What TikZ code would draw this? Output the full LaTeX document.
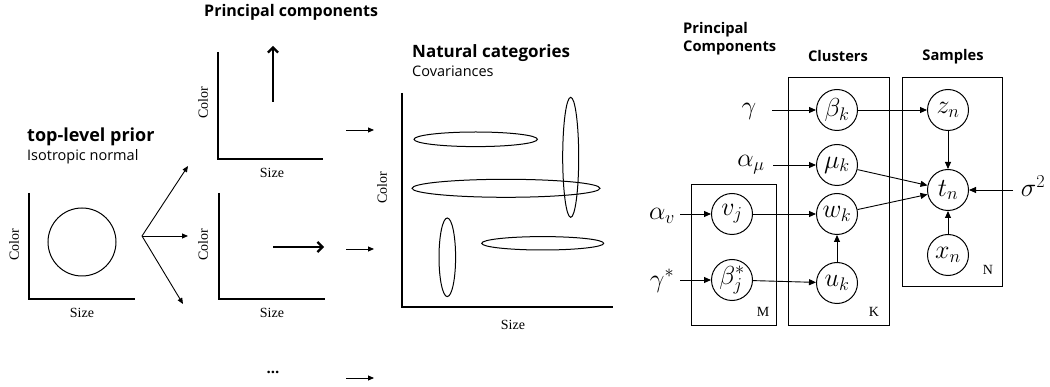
\RequirePackage{fix-cm}
\documentclass[tikz,border=0pt]{standalone}
\usepackage{fontspec}
\setmainfont{Liberation Serif}
\newfontfamily\uifont{Open Sans}
\usetikzlibrary{arrows.meta}
\tikzset{
  axis/.style={line width=1.5pt},
  ell/.style={line width=1pt},
  thin arr/.style={line width=0.9pt,-{Triangle[length=6pt,width=5pt]}},
  thick arr/.style={line width=2.6pt,-{Straight Barb[length=5pt,width=10pt,line width=2.2pt]}},
  lab/.style={font=\fontsize{14}{16}\selectfont},
  ttl/.style={font=\uifont\bfseries\fontsize{16}{18}\selectfont,anchor=base west,inner sep=0},
  sub/.style={font=\uifont\fontsize{14.5}{16}\selectfont,anchor=base west,inner sep=0},
  gttl/.style={font=\uifont\bfseries\fontsize{14.7}{18.3}\selectfont,inner sep=0,align=left},
  var/.style={circle,draw,line width=1pt,minimum size=41pt,inner sep=0,font=\fontsize{26}{30}\selectfont},
  free/.style={font=\fontsize{26}{30}\selectfont,inner sep=0},
  plate/.style={draw,line width=1pt},
  arr/.style={line width=0.9pt,-{Triangle[length=7pt,width=6pt]}},
}
\begin{document}
\begin{tikzpicture}[x=1pt,y=-1pt]
\useasboundingbox (0,0) rectangle (1050,387);

% ---- top-level prior
\node[ttl,font=\uifont\bfseries\fontsize{18}{20}\selectfont] (t1) at (27,142) {top-level prior};
\node[sub] (s1) at (27,161) {Isotropic normal};
\draw[axis] (29,193) -- (29,299) -- (135,299);
\node[lab,rotate=90] (c1) at (14,245) {Color};
\node[lab] (z1) at (82,313) {Size};
\draw[line width=1pt] (82,242) circle [radius=34pt];

\coordinate (fan) at (142,236);
\coordinate (fa) at (188,166);
\coordinate (fb) at (188,236);
\coordinate (fc) at (183,304);
\draw[thin arr] (fan) -- (fa);
\draw[thin arr] (fan) -- (fb);
\draw[thin arr] (fan) -- (fc);

% ---- principal components
\node[ttl] (t2) at (204,17) {Principal components};
\draw[axis] (218,52) -- (218,159) -- (323,159);
\node[lab,rotate=90] (c2) at (203,103) {Color};
\node[lab] (z2) at (272,173) {Size};
\coordinate (u1) at (273,102);
\coordinate (u2) at (273,46);
\draw[thick arr] (u1) -- (u2);

\draw[axis] (219,193) -- (219,299) -- (325,299);
\node[lab,rotate=90] (c3) at (203,245) {Color};
\node[lab] (z3) at (272,313) {Size};
\coordinate (r1) at (273,247);
\coordinate (r2) at (324,247);
\draw[thick arr] (r1) -- (r2);

\node[font=\uifont\bfseries\fontsize{15}{16}\selectfont,inner sep=0] (dots) at (273,372) {...};

% ---- middle arrows
\coordinate (m1a) at (346,130); \coordinate (m1b) at (374,130);
\coordinate (m2a) at (346,249); \coordinate (m2b) at (374,249);
\coordinate (m3a) at (346,378); \coordinate (m3b) at (374,378);
\draw[thin arr] (m1a) -- (m1b);
\draw[thin arr] (m2a) -- (m2b);
\draw[thin arr] (m3a) -- (m3b);

% ---- natural categories
\node[ttl,font=\uifont\bfseries\fontsize{17}{19}\selectfont] (t3) at (412,58) {Natural categories};
\node[sub] (s3) at (412,77) {Covariances};
\draw[axis] (402,93) -- (402,307) -- (613,307);
\node[lab,rotate=90] (c4) at (382,188) {Color};
\node[lab] (z4) at (513,325) {Size};
\draw[ell] (475.7,139.3) ellipse [x radius=61.7pt, y radius=7.3pt];
\draw[ell] (506,188.3) ellipse [x radius=94pt, y radius=9pt];
\draw[ell] (570.7,157.3) ellipse [x radius=8pt, y radius=60pt];
\draw[ell] (447.3,257.3) ellipse [x radius=8.3pt, y radius=39.3pt];
\draw[ell] (542.7,243.3) ellipse [x radius=61pt, y radius=6.7pt];

% ---- graphical model
\node[gttl,anchor=base west] (gp) at (683,51.7) {Principal\\Components};
\node[gttl,anchor=base] (gc) at (838,62) {Clusters};
\node[gttl,anchor=base] (gs) at (953,61) {Samples};

\node[plate,minimum width=85pt,minimum height=141pt,inner sep=0,anchor=north west] (pM) at (691,184) {};
\node[plate,minimum width=101pt,minimum height=248pt,inner sep=0,anchor=north west] (pK) at (788,77) {};
\node[plate,minimum width=100pt,minimum height=209pt,inner sep=0,anchor=north west] (pN) at (902,77) {};
\node[lab] (lM) at (763,312) {M};
\node[lab] (lK) at (874,312) {K};
\node[lab] (lN) at (988,270) {N};

\node[var] (bk) at (837,110) {$\beta_k$};
\node[var] (mk) at (837,165) {$\mu_k$};
\node[var] (wk) at (837,214) {$w_k$};
\node[var] (uk) at (837,283) {$u_k$};
\node[var] (zn) at (948,110) {$z_n$};
\node[var] (tn) at (948,190) {$t_n$};
\node[var] (xn) at (948,255) {$x_n$};
\node[var] (vj) at (732,214) {$v_j$};
\node[var] (bj) at (732,280) {$\beta^*_j$};

\node[free] (g) at (749,111) {$\gamma$};
\node[free] (am) at (751,165) {$\alpha_\mu$};
\node[free] (av) at (662,216) {$\alpha_v$};
\node[free] (gstar) at (662,281) {$\gamma^*$};
\node[free] (sig) at (1033,186) {$\sigma^2$};

\coordinate (gA) at (772,110);
\coordinate (amA) at (773,165);
\coordinate (avA) at (680,214);
\coordinate (gsA) at (680,280);
\coordinate (sigA) at (1013,190);

\draw[arr] (gA) -- (bk);
\draw[arr] (amA) -- (mk);
\draw[arr] (avA) -- (vj);
\draw[arr] (gsA) -- (bj);
\draw[arr] (sigA) -- (tn);
\draw[arr] (bk) -- (zn);
\draw[arr] (zn) -- (tn);
\draw[arr] (mk) -- (tn);
\draw[arr] (wk) -- (tn);
\draw[arr] (xn) -- (tn);
\draw[arr] (vj) -- (wk);
\draw[arr] (bj) -- (uk);
\draw[arr] (uk) -- (wk);
\end{tikzpicture}
\end{document}
